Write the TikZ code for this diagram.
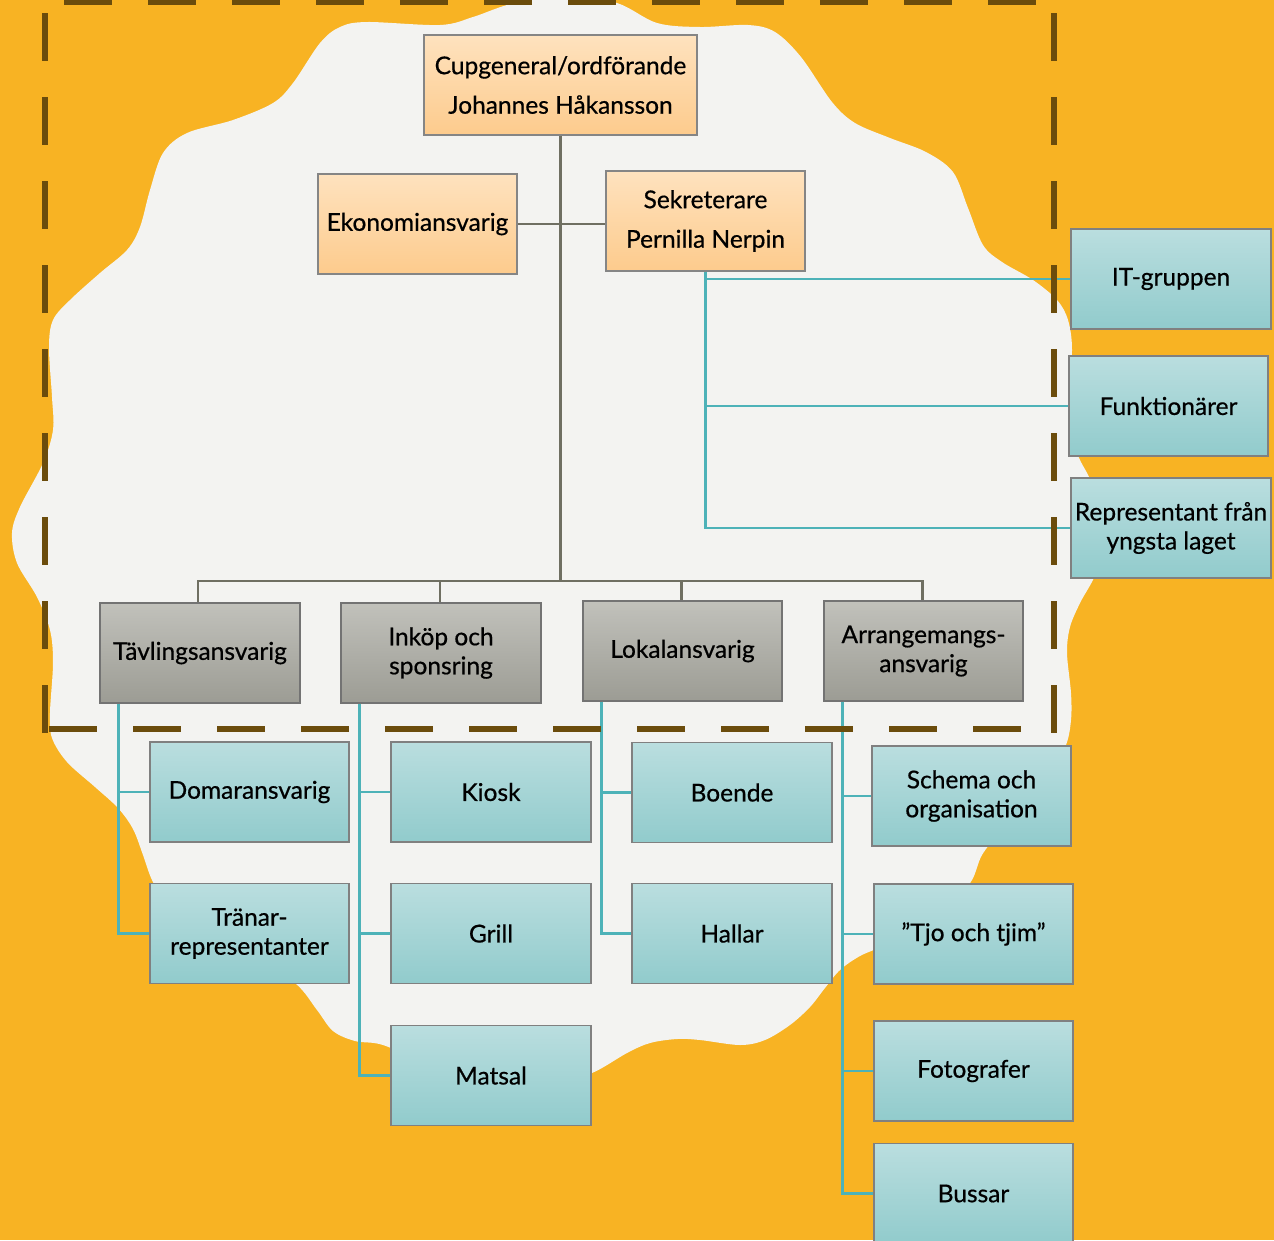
\documentclass[tikz,border=0pt]{standalone}
\usepackage{fontspec}
\setmainfont{Lato}
\newfontfamily\boxfont{Lato}[FakeBold=0.6]
\usetikzlibrary{calc}
\definecolor{bgorange}{HTML}{F8B323}
\definecolor{blob}{HTML}{F3F3F1}
\definecolor{brown}{HTML}{6B4C0C}
\definecolor{grayline}{HTML}{6F6F62}
\definecolor{tealline}{HTML}{4DB2B8}
\definecolor{orTop}{HTML}{FEE2BE}
\definecolor{orBot}{HTML}{FDCB8D}
\definecolor{grTop}{HTML}{C1C1BB}
\definecolor{grBot}{HTML}{9C9C94}
\definecolor{tlTop}{HTML}{BADEDF}
\definecolor{tlBot}{HTML}{91CBCC}
\definecolor{boxline}{HTML}{858585}
\tikzset{
  basebox/.style={rectangle, draw=boxline, line width=1.4pt, minimum width=199pt, minimum height=100pt, inner sep=0pt, align=center, text=black, font=\boxfont\fontsize{24.5}{29}\selectfont},
  orbox/.style={basebox, top color=orTop, bottom color=orBot, font=\boxfont\fontsize{24.5}{39.5}\selectfont},
  grbox/.style={basebox, top color=grTop, bottom color=grBot, draw=black!55},
  tlbox/.style={basebox, top color=tlTop, bottom color=tlBot, draw=black!50},
  gconn/.style={draw=grayline, line width=2.8pt},
  tconn/.style={draw=tealline, line width=2.7pt},
  frameline/.style={draw=brown, line width=6pt, dash pattern=on 48pt off 36pt}
}
\begin{document}
\begin{tikzpicture}[x=1pt, y=-1pt]
\useasboundingbox (0,0) rectangle (1274,1240);
\fill[bgorange] (0,0) rectangle (1274,1240);
\fill[blob] plot[smooth cycle, tension=0.55] coordinates {
(70,300) (100,273) (127,250) (140,227) (150,190) (163,153) (187,133) (233,120) (273,103) (293,83) (320,43) (340,27) (367,22) (440,25) (473,17) (507,5) (560,-8) (617,3) (657,23) (700,27) (748,25) (775,32) (801,57) (832,102) (855,123) (890,138) (926,152) (953,172) (968,208) (983,245) (1002,262) (1033,280) (1057,300) (1068,320) (1072,350) (1068,400) (1072,440) (1080,460) (1092,485) (1100,530) (1097,570) (1080,603) (1070,627) (1067,653) (1071,693) (1071,720) (1066,745) (1050,775) (1025,805) (1000,832) (982,855) (972,880) (955,900) (920,925) (885,945) (860,956) (840,970) (825,988) (810,1007) (790,1025) (765,1040) (740,1045) (700,1040) (677,1039) (650,1043) (627,1053) (592,1073) (550,1085) (490,1085) (430,1065) (383,1045) (355,1041) (333,1031) (317,1010) (295,983) (250,955) (200,925) (165,900) (152,880) (143,855) (133,829) (118,808) (95,787) (67,762) (52,738) (50,713) (53,663) (50,630) (37,597) (17,563) (12,533) (20,507) (43,463) (53,430) (52,397) (49,347) (53,320)};

\coordinate (barmid) at (560,581);

\path
  node[orbox, minimum width=273pt] (cup) at (560.5,85) {Cupgeneral/ordförande\\Johannes Håkansson}
  node[orbox] (eko) at (417.5,224) {Ekonomiansvarig}
  node[orbox] (sek) at (705.5,221) {Sekreterare\\Pernilla Nerpin};

\draw[gconn] (cup.south) -- (cup.south |- barmid);
\draw[gconn] (eko.east) -- (eko.east -| sek.west);

\path
  node[grbox, minimum width=200pt] (tav) at (200,653) {Tävlingsansvarig}
  node[grbox, minimum width=200pt] (ink) at (441,653) {Inköp och\\sponsring}
  node[grbox] (lok) at (682.5,651) {Lokalansvarig}
  node[grbox] (arr) at (923.5,651) {Arrangemangs-\\ansvarig};

\draw[gconn] ([xshift=-2pt]tav.north) |- (barmid) -| ([xshift=-1pt]arr.north);
\draw[gconn] ([xshift=-1pt]ink.north) -- ([xshift=-1pt]ink.north |- barmid);
\draw[gconn] ([xshift=-1pt]lok.north) -- ([xshift=-1pt]lok.north |- barmid);

\path
  node[tlbox, minimum width=200pt] (it) at (1171,279) {IT-gruppen}
  node[tlbox] (funk) at (1168.5,406) {Funktionärer}
  node[tlbox, minimum width=200pt] (rep) at (1171,528) {Representant från\\yngsta laget}
  node[tlbox] (dom) at (249.5,792) {Domaransvarig}
  node[tlbox] (tra) at (249.5,933.5) {Tränar-\\representanter}
  node[tlbox, minimum width=200pt] (kio) at (491,792) {Kiosk}
  node[tlbox, minimum width=200pt] (gri) at (491,933.5) {Grill}
  node[tlbox, minimum width=200pt] (mat) at (491,1075.5) {Matsal}
  node[tlbox, minimum width=200pt] (boe) at (732,792.5) {Boende}
  node[tlbox, minimum width=200pt] (hal) at (732,933.5) {Hallar}
  node[tlbox] (sch) at (971.5,796) {Schema och\\organisation}
  node[tlbox] (tjo) at (973.5,934) {”Tjo och tjim”}
  node[tlbox] (fot) at (973.5,1071) {Fotografer}
  node[tlbox] (bus) at (973.5,1193.5) {Bussar};

\draw[tconn] (sek.south) |- (it.west);
\draw[tconn] (sek.south) |- (funk.west);
\draw[tconn] (sek.south) |- (rep.west);
\draw[tconn] ([xshift=19pt]tav.south west) |- (dom.west);
\draw[tconn] ([xshift=19pt]tav.south west) |- (tra.west);
\draw[tconn] ([xshift=19pt]ink.south west) |- (kio.west);
\draw[tconn] ([xshift=19pt]ink.south west) |- (gri.west);
\draw[tconn] ([xshift=19pt]ink.south west) |- (mat.west);
\draw[tconn] ([xshift=19pt]lok.south west) |- (boe.west);
\draw[tconn] ([xshift=19pt]lok.south west) |- (hal.west);
\draw[tconn] ([xshift=19pt]arr.south west) |- (sch.west);
\draw[tconn] ([xshift=19pt]arr.south west) |- (tjo.west);
\draw[tconn] ([xshift=19pt]arr.south west) |- (fot.west);
\draw[tconn] ([xshift=19pt]arr.south west) |- (bus.west);

\draw[frameline, dash phase=73pt] (45,2) -- (45,733);
\draw[frameline, dash phase=73pt] (1054,2) -- (1054,733);
\draw[frameline, dash phase=65pt] (45,2) -- (1054,2);
\draw[frameline, dash phase=80pt] (45,729) -- (1054,729);
\end{tikzpicture}
\end{document}
